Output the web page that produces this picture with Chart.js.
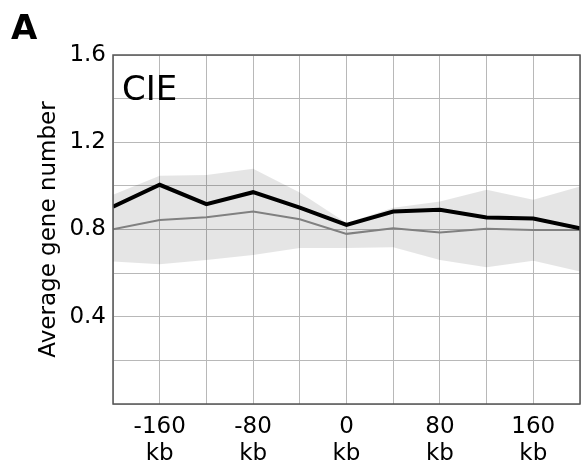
<!DOCTYPE html>
<html>
<head>
<meta charset="utf-8">
<script src="https://cdn.jsdelivr.net/npm/chart.js@4/dist/chart.umd.min.js"></script>
<style>
  html, body { margin: 0; padding: 0; background: #fff; }
  #wrap { width: 582px; height: 463px; }
</style>
</head>
<body>
<div id="wrap"><canvas id="chart"></canvas></div>
<script>
// positions relative to the element, kb
const positions = [-200, -160, -120, -80, -40, 0, 40, 80, 120, 160, 200];
const observed = [0.905, 1.005, 0.916, 0.971, 0.90, 0.821, 0.882, 0.89, 0.855, 0.85, 0.806];
const expected = [0.801, 0.844, 0.856, 0.882, 0.847, 0.78, 0.806, 0.786, 0.803, 0.798, 0.798];
const bandUpper = [0.959, 1.046, 1.05, 1.078, 0.97, 0.83, 0.90, 0.928, 0.982, 0.936, 0.997];
const bandLower = [0.653, 0.641, 0.66, 0.683, 0.715, 0.715, 0.719, 0.66, 0.627, 0.657, 0.607];
const xTickLabels = { '-160': '-160', '-80': '-80', '0': '0', '80': '80', '160': '160' };
const yTickLabels = ['0.4', '0.8', '1.2', '1.6'];

const toPoints = (vals) => vals.map((v, i) => ({ x: positions[i], y: v }));
const FONT = 'DejaVu Sans';

const textPlugin = {
  id: 'panelText',
  afterDraw(chart) {
    const ctx = chart.ctx;
    ctx.save();
    ctx.fillStyle = '#000';
    ctx.textBaseline = 'alphabetic';
    ctx.textAlign = 'left';
    ctx.font = `bold 34px "${FONT}"`;
    ctx.fillText('A', 11, 39);
    ctx.font = `34px "${FONT}"`;
    ctx.fillText('CIE', chart.chartArea.left + 9, 100);
    ctx.restore();
  },
};

const borderPlugin = {
  id: 'frame',
  afterDatasetsDraw(chart) {
    const { left, right, top, bottom } = chart.chartArea;
    const ctx = chart.ctx;
    ctx.save();
    ctx.strokeStyle = '#555';
    ctx.lineWidth = 1.5;
    ctx.strokeRect(left, top, right - left, bottom - top);
    ctx.restore();
  },
};

new Chart(document.getElementById('chart'), {
  type: 'line',
  data: {
    datasets: [
      {
        data: toPoints(observed),
        borderColor: '#000',
        borderWidth: 4,
        pointRadius: 0,
        fill: false,
      },
      {
        data: toPoints(expected),
        borderColor: '#808080',
        borderWidth: 2,
        pointRadius: 0,
        fill: false,
      },
      {
        data: toPoints(bandUpper),
        borderWidth: 0,
        borderColor: 'rgba(0,0,0,0)',
        backgroundColor: 'rgba(0,0,0,0.1)',
        pointRadius: 0,
        fill: '+1',
      },
      {
        data: toPoints(bandLower),
        borderWidth: 0,
        borderColor: 'rgba(0,0,0,0)',
        pointRadius: 0,
        fill: false,
      },
    ],
  },
  options: {
    responsive: true,
    maintainAspectRatio: false,
    animation: false,
    layout: { padding: { top: 55, right: 2, left: 0, bottom: 0 } },
    plugins: {
      legend: { display: false },
      tooltip: { enabled: false },
    },
    scales: {
      x: {
        type: 'linear',
        min: -200,
        max: 200,
        border: { display: false },
        grid: { color: '#b8b8b8', lineWidth: 1, drawTicks: false },
        ticks: {
          stepSize: 40,
          padding: 9,
          maxRotation: 0,
          autoSkip: false,
          color: '#000',
          font: { family: FONT, size: 23, lineHeight: 1.2 },
          callback: (v) => (xTickLabels[String(v)] !== undefined ? [xTickLabels[String(v)], 'kb'] : ''),
        },
        afterFit: (scale) => {
          scale.height = 59;
          scale.paddingLeft = 0;
          scale.paddingRight = 0;
        },
      },
      y: {
        min: 0,
        max: 1.6,
        border: { display: false },
        grid: { color: '#b8b8b8', lineWidth: 1, drawTicks: false },
        ticks: {
          stepSize: 0.2,
          padding: 7,
          autoSkip: false,
          color: '#000',
          font: { family: FONT, size: 23 },
          callback: (v) => {
            const s = v.toFixed(1);
            return yTickLabels.includes(s) ? s : '';
          },
        },
        title: {
          display: true,
          text: 'Average gene number',
          color: '#000',
          font: { family: FONT, size: 23 },
          padding: { top: 35, bottom: 0 },
        },
        afterFit: (scale) => {
          scale.width = 113;
          scale.paddingTop = 0;
          scale.paddingBottom = 0;
        },
      },
    },
  },
  plugins: [textPlugin, borderPlugin],
});
</script>
</body>
</html>
